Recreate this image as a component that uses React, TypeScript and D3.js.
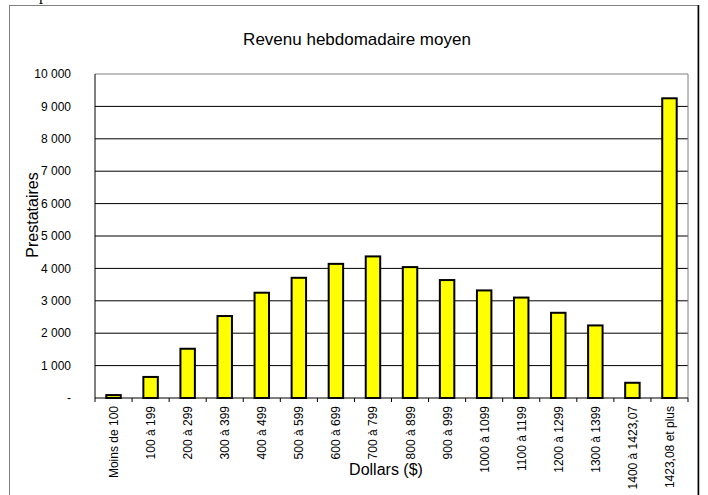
import { useMemo } from "react";
import { scaleBand, scaleLinear, formatLocale } from "d3";

const categories = [
  "Moins de 100",
  "100 à 199",
  "200 à 299",
  "300 à 399",
  "400 à 499",
  "500 à 599",
  "600 à 699",
  "700 à 799",
  "800 à 899",
  "900 à 999",
  "1000 à 1099",
  "1100 à 1199",
  "1200 à 1299",
  "1300 à 1399",
  "1400 à 1423,07",
  "1423,08 et plus",
];

const prestataires = [
  90, 650, 1520, 2530, 3250, 3710, 4140, 4370, 4040, 3640, 3320, 3100, 2630, 2240, 470, 9250,
];

const yTicks = [0, 1000, 2000, 3000, 4000, 5000, 6000, 7000, 8000, 9000, 10000];

const TITLE = "Revenu hebdomadaire moyen";
const X_TITLE = "Dollars ($)";
const Y_TITLE = "Prestataires";

const W = 708;
const H = 495;
const PLOT = { left: 95, right: 688, top: 74, bottom: 398 };
const FONT = "Arial, 'Liberation Sans', sans-serif";

const frLocale = formatLocale({
  decimal: ",",
  thousands: " ",
  grouping: [3],
  currency: ["", " $"],
});
const fmt = frLocale.format(",");

export default function App() {
  const x = useMemo(
    () =>
      scaleBand<string>()
        .domain(categories)
        .range([PLOT.left, PLOT.right])
        .paddingInner(0.61)
        .paddingOuter(0.305),
    []
  );
  const y = useMemo(
    () => scaleLinear().domain([0, 10000]).range([PLOT.bottom, PLOT.top]),
    []
  );

  const step = x.step();
  const boundaries = categories.map((c) => (x(c) ?? 0) - (step - x.bandwidth()) / 2);
  boundaries.push(PLOT.right);

  return (
    <svg
      width={W}
      height={H}
      viewBox={`0 0 ${W} ${H}`}
      style={{ position: "absolute", left: 0, top: 0, background: "#fff" }}
      fontFamily={FONT}
    >
      {/* bit of the page text above the chart */}
      <text x={39} y={0} fontFamily="'Liberation Serif', serif" fontSize={16} fill="#000">
        p
      </text>

      {/* outer chart frame */}
      <rect x={9.5} y={5.5} width={688.5} height={500} fill="#fff" stroke="#808080" strokeWidth={1} />
      <line x1={698.5} y1={5} x2={698.5} y2={H} stroke="#000" strokeWidth={1.5} />

      <text x={357} y={45} textAnchor="middle" fontSize={17} fill="#000">
        {TITLE}
      </text>

      {/* gridlines */}
      {yTicks
        .filter((t) => t > 0 && t < 10000)
        .map((t) => (
          <line key={t} x1={PLOT.left} x2={PLOT.right} y1={y(t)} y2={y(t)} stroke="#000" strokeWidth={1} />
        ))}

      {/* plot border top/right */}
      <line x1={PLOT.left} x2={PLOT.right} y1={y(10000)} y2={y(10000)} stroke="#808080" />
      <line x1={PLOT.right} x2={PLOT.right} y1={PLOT.top} y2={PLOT.bottom} stroke="#808080" />

      {/* bars */}
      {categories.map((c, i) => (
        <rect
          key={c}
          x={x(c)}
          y={y(prestataires[i])}
          width={x.bandwidth()}
          height={PLOT.bottom - y(prestataires[i])}
          fill="#FFFF00"
          stroke="#000"
          strokeWidth={2}
        />
      ))}

      {/* axes */}
      <line x1={PLOT.left} x2={PLOT.left} y1={PLOT.top} y2={PLOT.bottom} stroke="#000" />
      <line x1={PLOT.left} x2={PLOT.right} y1={PLOT.bottom} y2={PLOT.bottom} stroke="#000" />
      {boundaries.map((b, i) => (
        <line key={i} x1={b} x2={b} y1={PLOT.bottom} y2={PLOT.bottom + 4} stroke="#000" />
      ))}

      {/* y tick labels */}
      {yTicks.map((t) => (
        <text key={t} x={71} y={y(t)} dy="0.35em" textAnchor="end" fontSize={12} fill="#000">
          {t === 0 ? "-" : fmt(t)}
        </text>
      ))}

      {/* x tick labels */}
      {categories.map((c) => {
        const cx = (x(c) ?? 0) + x.bandwidth() / 2;
        return (
          <text
            key={c}
            transform={`translate(${cx + 4.5},406) rotate(-90)`}
            textAnchor="end"
            fontSize={12}
            fill="#000"
          >
            {c}
          </text>
        );
      })}

      <text transform="translate(38,215) rotate(-90)" textAnchor="middle" fontSize={16} fill="#000">
        {Y_TITLE}
      </text>
      <text x={386} y={475} textAnchor="middle" fontSize={16} fill="#000">
        {X_TITLE}
      </text>
    </svg>
  );
}
